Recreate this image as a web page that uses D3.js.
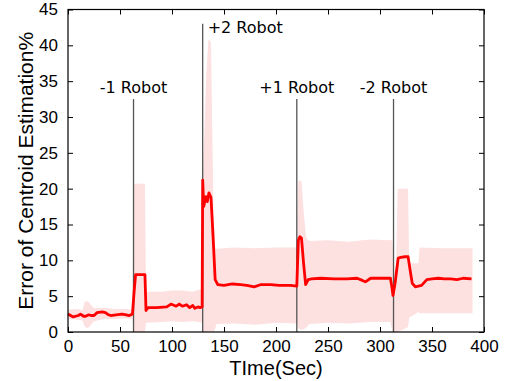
<!DOCTYPE html>
<html>
<head>
<meta charset="utf-8">
<script src="https://cdn.jsdelivr.net/npm/d3@7"></script>
<style>
  body { margin: 0; background: #fff; }
  svg { display: block; }
</style>
</head>
<body>
<div id="chart"></div>
<script>
// mean error curve (time in sec, error in %)
const meanTime = [0, 5, 10, 12, 15, 17, 20, 22, 25, 28, 33, 36, 39, 41, 46, 52, 56, 59, 62, 63.5, 65, 74, 75, 77,
  85, 95, 99, 104, 107, 110, 114, 117, 120, 122, 125, 127, 129, 129.5, 130.5, 132.5, 134, 135.5, 137.5, 139.5,
  141.5, 144, 150, 158, 166, 172, 179, 185, 195, 203, 214, 220, 221.5, 223, 224.5, 226.5, 228.5, 231, 234, 243,
  256, 268, 278, 283, 286, 291, 297, 310, 311.5, 312.5, 314.5, 317.5, 320, 324, 327, 329, 331, 334, 340, 345,
  350, 356, 362, 368, 374, 380, 388];
const meanError = [2.5, 2.1, 2.3, 2.5, 2.2, 2.2, 2.4, 2.3, 2.3, 2.7, 2.8, 2.7, 2.4, 2.3, 2.4, 2.5, 2.4, 2.3, 2.5, 5.5,
  8.0, 8.0, 3.0, 3.4, 3.4, 3.5, 3.9, 3.6, 3.9, 3.6, 3.8, 3.4, 3.7, 3.3, 3.5, 3.4, 3.5, 21.2, 17.5, 18.9, 18.2,
  19.4, 18.8, 13.3, 7.3, 6.6, 6.5, 6.7, 6.6, 6.5, 6.3, 6.6, 6.6, 6.5, 6.5, 6.4, 12.8, 13.3, 13.1, 9.6, 6.6, 7.3,
  7.4, 7.5, 7.4, 7.4, 7.5, 7.2, 7.0, 7.5, 7.5, 7.5, 6.2, 5.1, 6.8, 10.3, 10.4, 10.5, 10.5, 8.6, 6.8, 6.3, 6.5,
  7.3, 7.4, 7.5, 7.4, 7.4, 7.3, 7.5, 7.4];

// spread band (upper / lower bound)
const bandTime = [0, 10, 14, 16, 19, 22, 25, 35, 45, 55, 62, 63, 74, 75, 90, 100, 110, 120, 126, 129, 129.5, 131,
  133, 135, 137.5, 138.5, 140, 141.5, 143, 160, 180, 200, 220, 220.5, 221.5, 224.5, 226.5, 229, 232, 250, 270,
  290, 310, 312, 313, 315.5, 317, 327, 328, 337, 338, 360, 389];
const bandUpper = [3.1, 3.2, 3.0, 4.2, 4.3, 3.8, 3.3, 3.4, 3.2, 3.2, 3.1, 20.7, 20.7, 5.6, 5.6, 5.8, 5.8, 5.6, 5.9,
  6.0, 21.5, 27, 36, 40.8, 40.5, 30, 16, 11.7, 11.6, 11.8, 11.7, 11.8, 11.8, 14, 21.2, 21.0, 17.0, 13.1, 12.7,
  12.8, 12.6, 12.9, 12.8, 12.8, 8.0, 9.5, 20, 20, 9.6, 9.6, 11.8, 11.7, 11.7];
const bandLower = [1.8, 1.7, 1.6, 0.8, 0.5, 1.0, 1.5, 1.8, 1.8, 1.9, 1.9, 0, 0, 1.3, 1.4, 1.5, 1.4, 1.5, 1.4, 1.3,
  0, 0, 0, 0, 0, 0, 0, 0.5, 1.1, 1.2, 1.0, 1.3, 1.2, 1.0, 0.5, 0.3, 0.4, 0.6, 1.1, 1.3, 1.2, 1.4, 1.4, 0, 0, 0,
  0, 0.7, 2.0, 2.8, 2.6, 2.6, 2.6];

// robot join / leave events
const eventLabels = ['-1 Robot', '+2 Robot', '+1 Robot', '-2 Robot'];
const eventTime = [63, 129.5, 220, 313];
const eventTop = [32.5, 43, 32.5, 32.5];

const xTicks = [0, 50, 100, 150, 200, 250, 300, 350, 400];
const yTicks = [0, 5, 10, 15, 20, 25, 30, 35, 40, 45];

const width = 506,
  height = 381,
  margin = { top: 9.5, right: 22, bottom: 49, left: 68 };

let x = d3.scaleLinear().domain([0, 400]).range([margin.left, width - margin.right]),
  y = d3.scaleLinear().domain([0, 45]).range([height - margin.bottom, margin.top]);

let svg = d3
  .select('#chart')
  .append('svg')
  .attr('width', width)
  .attr('height', height);

/////////////////////////////////////////////////////////
////////////////// Band and mean line ///////////////////
/////////////////////////////////////////////////////////

let band = d3
  .area()
  .x((d, i) => x(bandTime[i]))
  .y0((d, i) => y(bandLower[i]))
  .y1((d, i) => y(bandUpper[i]));

svg
  .append('path')
  .attr('d', band(bandTime))
  .style('fill', '#fde0e0')
  .style('stroke', 'none');

// event markers
let events = svg
  .selectAll('.event')
  .data(eventLabels)
  .enter()
  .append('g')
  .attr('class', 'event');

events
  .append('line')
  .attr('x1', (d, i) => x(eventTime[i]))
  .attr('x2', (d, i) => x(eventTime[i]))
  .attr('y1', y(0))
  .attr('y2', (d, i) => y(eventTop[i]))
  .style('stroke', '#555')
  .style('stroke-width', 1.3);

events
  .append('text')
  .attr('x', (d, i) => (i === 1 ? x(eventTime[i]) + 5 : x(eventTime[i])))
  .attr('y', (d, i) => (i === 1 ? y(eventTop[i]) + 9 : y(eventTop[i]) - 6))
  .attr('text-anchor', (d, i) => (i === 1 ? 'start' : 'middle'))
  .style('font-family', 'DejaVu Sans')
  .style('font-size', '16px')
  .style('fill', '#000')
  .text(d => d);

let meanLine = d3
  .line()
  .x((d, i) => x(meanTime[i]))
  .y((d, i) => y(meanError[i]));

svg
  .append('path')
  .attr('d', meanLine(meanTime))
  .style('fill', 'none')
  .style('stroke', '#ff0000')
  .style('stroke-width', 2.8)
  .style('stroke-linejoin', 'round');

/////////////////////////////////////////////////////////
//////////////////////// Axes ///////////////////////////
/////////////////////////////////////////////////////////

const tickFont = g =>
  g.selectAll('text').style('font-family', 'Liberation Sans, Arial').style('font-size', '17px').style('fill', '#000');

svg
  .append('g')
  .attr('transform', `translate(0,${y(0)})`)
  .call(d3.axisBottom(x).tickValues(xTicks).tickSizeInner(-5).tickSizeOuter(0).tickPadding(8))
  .call(tickFont)
  .call(g => g.select('.domain').remove());

svg
  .append('g')
  .attr('transform', `translate(${x(0)},0)`)
  .call(d3.axisLeft(y).tickValues(yTicks).tickSizeInner(-5).tickSizeOuter(0).tickPadding(10))
  .call(tickFont)
  .call(g => g.select('.domain').remove());

svg
  .append('g')
  .attr('transform', `translate(0,${y(45)})`)
  .call(d3.axisTop(x).tickValues(xTicks).tickSizeInner(-5).tickSizeOuter(0).tickFormat(''))
  .call(g => g.select('.domain').remove());

svg
  .append('g')
  .attr('transform', `translate(${x(400)},0)`)
  .call(d3.axisRight(y).tickValues(yTicks).tickSizeInner(-5).tickSizeOuter(0).tickFormat(''))
  .call(g => g.select('.domain').remove());

svg.selectAll('.tick line').style('stroke', '#000');

// box round the plot
svg
  .append('rect')
  .attr('x', x(0))
  .attr('y', y(45))
  .attr('width', x(400) - x(0))
  .attr('height', y(0) - y(45))
  .style('fill', 'none')
  .style('stroke', '#000')
  .style('stroke-width', 1.2);

// axis titles
svg
  .append('text')
  .attr('x', (x(0) + x(400)) / 2)
  .attr('y', 375)
  .attr('text-anchor', 'middle')
  .style('font-family', 'Liberation Sans, Arial')
  .style('font-size', '20px')
  .text('TIme(Sec)');

svg
  .append('text')
  .attr('transform', `translate(33,${(y(0) + y(45)) / 2}) rotate(-90)`)
  .attr('text-anchor', 'middle')
  .style('font-family', 'Liberation Sans, Arial')
  .style('font-size', '21px')
  .text('Error of Centroid Estimation%');
</script>
</body>
</html>
